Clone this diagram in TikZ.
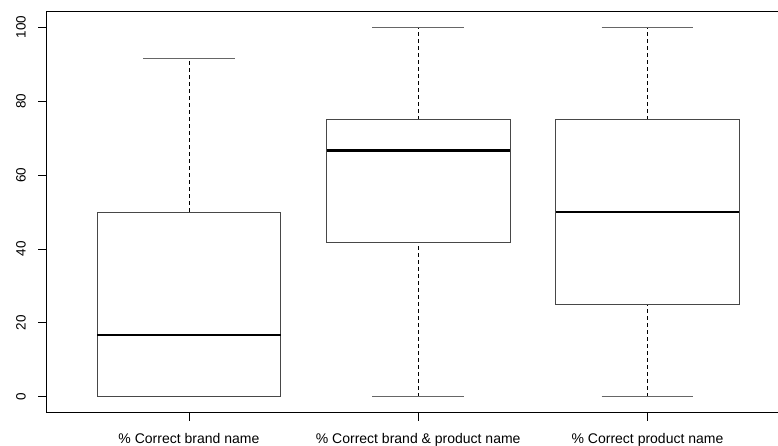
\documentclass[tikz,border=0pt]{standalone}
\usepackage{fontspec}
\setmainfont{Liberation Sans}
\usetikzlibrary{calc}
\tikzset{
  frameline/.style={line width=0.8pt, color=black},
  boxline/.style={line width=0.8pt, color=black!72},
  capline/.style={line width=0.8pt, color=black!60},
  whisk/.style={line width=0.6pt, color=black, dash pattern=on 4pt off 3pt},
  medline/.style={line width=2.6pt, color=black},
  ticklab/.style={font=\fontsize{13.5}{15}\selectfont, rotate=90},
  grplab/.style={font=\fontsize{14}{16}\selectfont, anchor=base}
}
% centre x, then min : q1 : median : q3 : max
\def\boxplot(#1)(#2:#3:#4:#5:#6){
  \draw[whisk] (#1, #2) -- (#1, #3);
  \draw[whisk] (#1, #5) -- (#1, #6);
  \draw[capline] (#1-45.9, #2) -- (#1+45.9, #2);
  \draw[capline] (#1-45.9, #6) -- (#1+45.9, #6);
  \draw[boxline, fill=white] (#1-91.7, #3) rectangle (#1+91.7, #5);
  \draw[medline] (#1-91.7, #4) -- (#1+91.7, #4);
}

\begin{document}
\begin{tikzpicture}[x=1pt, y=1pt]
			%%%%% START %%%%%
			\clip (0, 0) rectangle (778, 445);
			
			\draw[frameline] (780, 434) -- (46, 434) -- (46, 32.7) -- (780, 32.7);
			
			\begin{scope}[shift={(0, 48.3)}, y=3.695pt]
			\draw[frameline] (38, 0) -- (46, 0);
			\draw[frameline] (38, 20) -- (46, 20);
			\draw[frameline] (38, 40) -- (46, 40);
			\draw[frameline] (38, 60) -- (46, 60);
			\draw[frameline] (38, 80) -- (46, 80);
			\draw[frameline] (38, 100) -- (46, 100);
			\node[ticklab] at (21, 0) {0};
			\node[ticklab] at (21, 20) {20};
			\node[ticklab] at (21, 40) {40};
			\node[ticklab] at (21, 60) {60};
			\node[ticklab] at (21, 80) {80};
			\node[ticklab] at (21, 100) {100};
			
			\boxplot(188.9)(0:0:16.67:50:91.67)
			\boxplot(418.2)(0:41.67:66.67:75:100)
			\boxplot(647.5)(0:25:50:75:100)
			\end{scope}
			
			\draw[frameline] (188.9, 32.7) -- (188.9, 24.3);
			\draw[frameline] (418.2, 32.7) -- (418.2, 24.3);
			\draw[frameline] (647.5, 32.7) -- (647.5, 24.3);
			
			\node[grplab] at (188.9, 2) {\% Correct brand name};
			\node[grplab] at (418.2, 2) {\% Correct brand \& product name};
			\node[grplab] at (647.5, 2) {\% Correct product name};
			%%%%% END %%%%%
\end{tikzpicture}
\end{document}
